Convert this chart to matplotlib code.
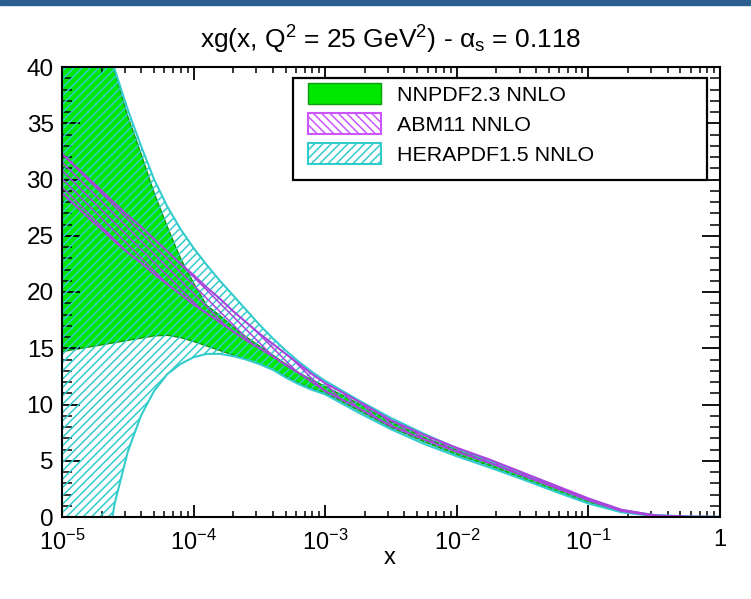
import numpy as np
import matplotlib as mpl
mpl.use('Agg')
import matplotlib.pyplot as plt
from matplotlib.patches import Patch, Rectangle

# -----------------------------------------------------------
mpl.rc('font', family=['Liberation Sans', 'DejaVu Sans'], size=15)
mpl.rc('mathtext', fontset='custom', rm='Liberation Sans',
       it='Liberation Sans:italic', bf='Liberation Sans:bold', default='regular')
mpl.rc('axes', linewidth=1.5)
mpl.rc('hatch', linewidth=1.1)
mpl.rc('xtick', direction='in', labelsize=17, top=True)
mpl.rc('ytick', direction='in', labelsize=17.5, right=True)
mpl.rc('xtick.major', size=9, width=1.3, pad=9)
mpl.rc('xtick.minor', size=4.5, width=1.1)
mpl.rc('ytick.major', size=13, width=1.3, pad=6)
mpl.rc('ytick.minor', size=7, width=1.1)
# -----------------------------------------------------------

# log10(x) sampling points
logx = [-5.0, -4.9, -4.8, -4.7, -4.6, -4.5, -4.4, -4.3, -4.2, -4.1,
        -4.0, -3.9, -3.8, -3.7, -3.6, -3.5, -3.4, -3.3, -3.2, -3.1,
        -3.0, -2.75, -2.5, -2.25, -2.0, -1.75, -1.5, -1.25, -1.0, -0.75,
        -0.5, -0.25, 0.0]

nnpdf_hi = [58.0, 52.0, 47.0, 43.0, 39.6, 35.6, 32.3, 28.8, 25.8, 23.0,
            20.8, 18.8, 17.9, 16.9, 16.0, 15.2, 14.4, 13.6, 12.8, 12.2,
            11.6, 10.1, 8.45, 7.1, 5.95, 4.9, 3.8, 2.65, 1.5, 0.58,
            0.15, 0.02, 0.0]
nnpdf_lo = [14.7, 14.9, 15.1, 15.3, 15.5, 15.7, 15.9, 16.1, 16.15, 15.95,
            15.6, 15.2, 14.8, 14.4, 14.0, 13.6, 13.1, 12.5, 11.9, 11.4,
            11.0, 9.5, 7.95, 6.7, 5.55, 4.55, 3.45, 2.35, 1.3, 0.45,
            0.1, 0.01, 0.0]

abm_hi = [32.3, 31.2, 30.1, 29.0, 27.9, 26.8, 25.8, 24.7, 23.6, 22.5,
          21.5, 20.4, 19.4, 18.3, 17.3, 16.3, 15.4, 14.5, 13.6, 12.7,
          11.9, 10.3, 8.6, 7.3, 6.15, 5.1, 3.95, 2.8, 1.65, 0.65,
          0.15, 0.02, 0.0]
abm_lo = [28.8, 27.7, 26.6, 25.6, 24.5, 23.5, 22.6, 21.6, 20.7, 19.8,
          18.9, 18.1, 17.3, 16.5, 15.7, 15.0, 14.3, 13.5, 12.8, 12.0,
          11.2, 9.7, 8.1, 6.9, 5.8, 4.8, 3.7, 2.6, 1.5, 0.55,
          0.1, 0.01, 0.0]

hera_hi = [58.0, 52.0, 47.5, 43.4, 39.8, 36.2, 33.0, 30.0, 27.6, 25.6,
           23.9, 22.4, 21.0, 19.7, 18.4, 17.1, 15.9, 14.8, 13.8, 12.9,
           12.1, 10.4, 8.8, 7.4, 6.1, 5.0, 3.85, 2.65, 1.5, 0.6,
           0.18, 0.05, 0.02]
hera_lo = [-40.0, -25.0, -14.0, -6.0, 1.2, 5.8, 9.0, 11.2, 12.7, 13.6,
           14.2, 14.5, 14.5, 14.3, 14.0, 13.6, 13.1, 12.4, 11.8, 11.3,
           10.9, 9.3, 7.8, 6.5, 5.4, 4.4, 3.35, 2.25, 1.2, 0.42,
           0.08, 0.01, 0.0]

labels = ['NNPDF2.3 NNLO', 'ABM11 NNLO', 'HERAPDF1.5 NNLO']
xticks = [1e-5, 1e-4, 1e-3, 1e-2, 1e-1, 1]
xticklabels = [r'$10^{-5}$', r'$10^{-4}$', r'$10^{-3}$', r'$10^{-2}$', r'$10^{-1}$', '1']

green = '#00e800'
purple = '#aa44dd'
cyan = '#33cccc'

x = 10.0**np.array(logx)

fig = plt.figure(figsize=(7.51, 5.99), dpi=100)
fig.patches.append(Rectangle((0, 1 - 5/599.), 1, 5/599., transform=fig.transFigure,
                             color='#2b5d8e', zorder=0))
ax = fig.add_axes([62/751., 1 - 517/599., 658/751., 450/599.])

ax.fill_between(x, nnpdf_lo, nnpdf_hi, facecolor=green, edgecolor='#119911', lw=1.0, zorder=1)
ax.fill_between(x, hera_lo, hera_hi, facecolor='none', edgecolor=cyan, hatch='////', lw=1.5, zorder=2)
ax.fill_between(x, abm_lo, abm_hi, facecolor='none', edgecolor=purple, hatch='\\\\\\\\', lw=1.5, zorder=3)

ax.set_xscale('log')
ax.set_xlim(1e-5, 1)
ax.set_ylim(0, 40)
ax.set_xticks(xticks)
ax.set_xticklabels(xticklabels)
ax.xaxis.set_minor_locator(mpl.ticker.LogLocator(base=10, subs=np.arange(2, 10)))
ax.xaxis.set_minor_formatter(mpl.ticker.NullFormatter())
ax.set_yticks(np.arange(0, 41, 5))
ax.yaxis.set_minor_locator(mpl.ticker.MultipleLocator(1))
for s in ax.spines.values():
    s.set_zorder(5)

ax.set_xlabel('x', fontsize=17)
ax.xaxis.set_label_coords(0.498, -0.066)

fig.text(391/751., 1 - 40/599., r'xg(x, Q$^2$ = 25 GeV$^2$) - $\alpha_s$ = 0.118',
         ha='center', va='center', fontsize=19)

# legend: frame drawn separately so the entries can sit inside with their own margins
frame = Rectangle((0.351, 0.749), 0.629, 0.2267, transform=ax.transAxes,
                  facecolor='white', edgecolor='black', lw=1.6, zorder=6, clip_on=False)
ax.add_patch(frame)
handles = [Patch(facecolor=green, edgecolor='#119911', lw=1.0),
           Patch(facecolor='white', edgecolor='#cc55ff', hatch='\\\\\\\\', lw=1.5),
           Patch(facecolor='white', edgecolor=cyan, hatch='////', lw=1.5)]
leg = ax.legend(handles, labels, loc='upper left', frameon=False,
                bbox_to_anchor=(0.3739, 0.9644), borderaxespad=0, borderpad=0,
                fontsize=15.4, handlelength=3.4, handleheight=1.16,
                handletextpad=0.74, labelspacing=0.37)
leg.set_zorder(7)

plt.savefig('out.png', dpi=100)
